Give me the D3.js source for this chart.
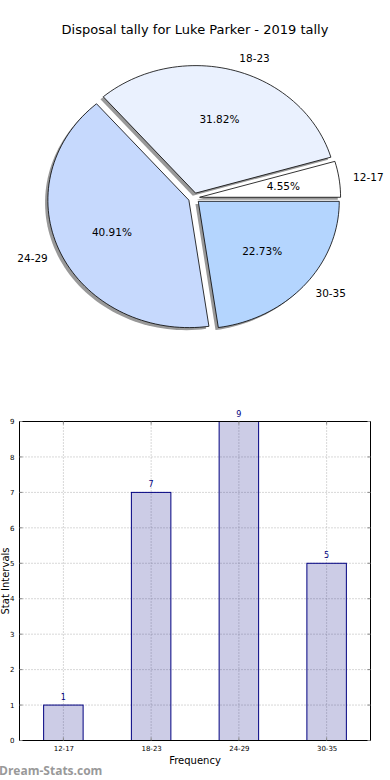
<!DOCTYPE html>
<html><head><meta charset="utf-8">
<script src="https://cdn.jsdelivr.net/npm/d3@7"></script>
<style>body{margin:0;background:#fff}svg{display:block;font-family:"DejaVu Sans",sans-serif}</style>
</head><body>
<script>
const categories = ["12-17","18-23","24-29","30-35"];
const values = [1,7,9,5];
const pieColors = ["#ffffff","#eaf1fe","#c6d9fd","#b4d5fe"];
const yTicks = [0,1,2,3,4,5,6,7,8,9];
const title = "Disposal tally for Luke Parker - 2019 tally";

const W=390,H=780;
const svg=d3.select("body").append("svg").attr("width",W).attr("height",H);
svg.append("rect").attr("width",W).attr("height",H).attr("fill","#fff");

svg.append("text").attr("x",195).attr("y",34).attr("text-anchor","middle")
  .attr("font-size",13).attr("fill","#000").text(title);

// Pie (matplotlib style: start at 0deg, counterclockwise)
const cx=194, cy=198, rx=141, ry=127.5, ex=0.04;
const total=d3.sum(values);
let acc=0;
const slices=values.map((v,i)=>{const a0=acc/total*360; acc+=v; const a1=acc/total*360; return {i,v,a0,a1,am:(a0+a1)/2};});
function slicePath(s,ox,oy){
  const n=Math.max(8,Math.ceil((s.a1-s.a0)/2));
  const pts=[[0,0]];
  for(let k=0;k<=n;k++){const a=(s.a0+(s.a1-s.a0)*k/n)*Math.PI/180;pts.push([Math.cos(a),Math.sin(a)]);}
  const am=s.am*Math.PI/180;
  const dx=ex*Math.cos(am), dy=ex*Math.sin(am);
  return "M"+pts.map(p=>[(cx+(p[0]+dx+ox)*rx).toFixed(2),(cy-(p[1]+dy+oy)*ry).toFixed(2)].join(",")).join("L")+"Z";
}
const pieG=svg.append("g");
slices.forEach(s=>{
  pieG.append("path").attr("d",slicePath(s,-0.02,-0.02)).attr("fill","#000").attr("fill-opacity",0.4).attr("stroke","none");
});
slices.forEach(s=>{
  pieG.append("path").attr("d",slicePath(s,0,0)).attr("fill",pieColors[s.i]).attr("stroke","#000").attr("stroke-width",0.8).attr("stroke-linejoin","round");
});
slices.forEach(s=>{
  const am=s.am*Math.PI/180, c=Math.cos(am), sn=Math.sin(am);
  const lx=cx+(ex+1.1)*rx*c, ly=cy-(ex+1.1)*ry*sn;
  svg.append("text").attr("x",lx).attr("y",ly).attr("dy","0.35em")
    .attr("text-anchor",c>0?"start":"end").attr("font-size",10.5).text(categories[s.i]);
  const px=cx+(ex+0.6)*rx*c, py=cy-(ex+0.6)*ry*sn;
  svg.append("text").attr("x",px).attr("y",py).attr("dy","0.35em")
    .attr("text-anchor","middle").attr("font-size",10.5).text((s.v/total*100).toFixed(2)+"%");
});

// Bar chart
const L=19.5,R=370.5,T=421.5,B=740.5;
const x=d3.scaleLinear().domain([-0.5,3.5]).range([L,R]);
const y=d3.scaleLinear().domain([0,9]).range([B,T]);
const bg=svg.append("g");
const bw=(x(0.45)-x(0));
bg.selectAll(".gy").data(yTicks).enter().append("line")
  .attr("x1",L).attr("x2",R).attr("y1",d=>y(d)).attr("y2",d=>y(d))
  .attr("stroke","#b0b0b0").attr("stroke-width",1).attr("stroke-dasharray","1,2");
bg.selectAll(".gx").data(categories).enter().append("line")
  .attr("x1",(d,i)=>x(i)).attr("x2",(d,i)=>x(i)).attr("y1",T).attr("y2",B)
  .attr("stroke","#b0b0b0").attr("stroke-width",1).attr("stroke-dasharray","1,2");
bg.selectAll(".bar").data(values).enter().append("rect")
  .attr("x",(d,i)=>x(i)-bw/2).attr("width",bw)
  .attr("y",d=>y(d)).attr("height",d=>B-y(d))
  .attr("fill","#000080").attr("fill-opacity",0.2).attr("stroke","#000080").attr("stroke-width",1);
bg.selectAll(".vl").data(values).enter().append("text")
  .attr("x",(d,i)=>x(i)).attr("y",d=>y(d)-5).attr("text-anchor","middle")
  .attr("font-size",8).attr("fill","#000080").text(d=>d);
bg.append("rect").attr("x",L).attr("y",T).attr("width",R-L).attr("height",B-T)
  .attr("fill","none").attr("stroke","#000").attr("stroke-width",1);
const yAxis=d3.axisLeft(y).tickValues(yTicks).tickSize(0).tickPadding(5).tickFormat(d3.format("d"));
const ga=bg.append("g").attr("transform",`translate(${L},0)`).call(yAxis);
ga.select(".domain").remove();
ga.selectAll("text").attr("font-size",7).attr("font-family","DejaVu Sans");
yTicks.forEach(t=>{
  bg.append("line").attr("x1",L).attr("x2",L+3).attr("y1",y(t)).attr("y2",y(t)).attr("stroke","#888");
  bg.append("line").attr("x1",R-3).attr("x2",R).attr("y1",y(t)).attr("y2",y(t)).attr("stroke","#888");
});
const xAxis=d3.axisBottom(d3.scalePoint().domain(categories).range([x(0),x(3)])).tickSize(0).tickPadding(6);
const gx=bg.append("g").attr("transform",`translate(0,${B})`).call(xAxis);
gx.select(".domain").remove();
gx.selectAll("text").attr("font-size",7).attr("font-family","DejaVu Sans");
categories.forEach((c,i)=>{
  bg.append("line").attr("x1",x(i)).attr("x2",x(i)).attr("y1",B).attr("y2",B-3).attr("stroke","#888");
  bg.append("line").attr("x1",x(i)).attr("x2",x(i)).attr("y1",T).attr("y2",T+3).attr("stroke","#888");
});
svg.append("text").attr("x",195).attr("y",764).attr("text-anchor","middle").attr("font-size",10).text("Frequency");
svg.append("text").attr("transform","translate(9,581) rotate(-90)").attr("text-anchor","middle").attr("font-size",10).text("Stat Intervals");
svg.append("text").attr("x",-1).attr("y",775).attr("font-size",12).attr("font-weight","bold").attr("fill","#999")
  .attr("font-family","'Open Sans',sans-serif").text("Dream-Stats.com");
</script>
</body></html>
